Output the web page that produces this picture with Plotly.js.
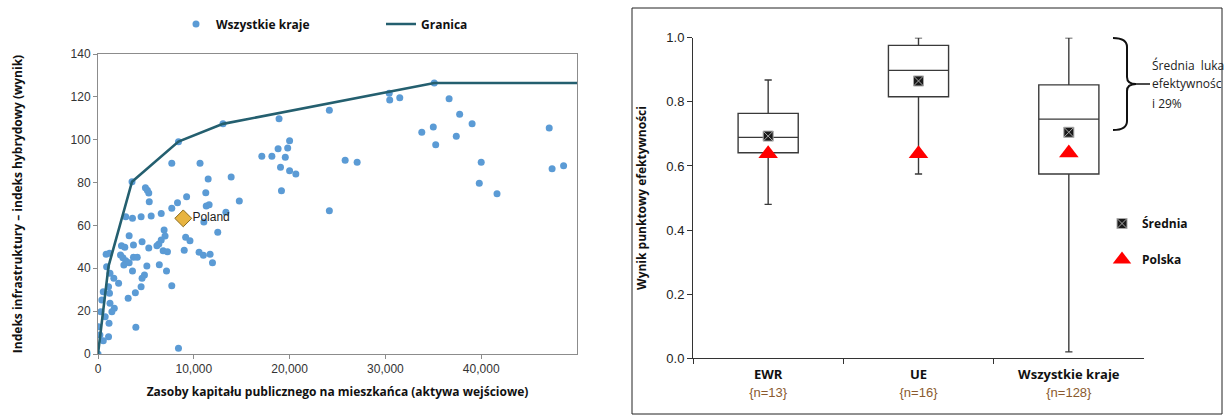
<!DOCTYPE html>
<html>
<head>
<meta charset="utf-8">
<script src="https://cdn.plot.ly/plotly-3.0.1.min.js"></script>
<style>html,body{margin:0;padding:0;background:#fff;}#chart{width:1226px;height:417px;}</style>
</head>
<body>
<div id="chart"></div>
<script>
// ---------- Left chart data: scatter of all countries ----------
const countriesX = [
  17100,18150,18800,19800,20000,19550,19050,20000,20650,19150,18900,24150,24150,25800,27050,
  30400,30450,31500,35100,36650,37750,39050,33800,35000,35250,37400,40000,39800,41650,47100,47400,48600,
  7700,10650,8400,11500,13900,11250,3550,4950,5150,5300,5350,9250,8300,7700,6600,5550,4500,3600,2900,
  11300,11600,11050,12500,13350,14750,6900,7000,6600,6350,6150,9150,9600,9000,6800,7250,6400,7150,7700,
  10550,11000,11700,11950,5300,4600,3250,3700,2450,2800,2350,2600,2900,2700,3250,3700,4100,3600,5100,
  4850,4600,4500,3900,3150,3950,2150,1650,1250,900,850,1200,1100,1200,550,400,1250,1700,1450,300,750,
  50,1150,200,1100,550,8400,0,13050
];
const countriesY = [
  92.3,92.3,95.8,96.1,99.5,91.8,87.1,85.5,84.0,76.2,109.8,113.7,66.9,90.4,89.5,
  121.7,118.5,119.6,126.5,119.1,111.9,107.5,103.5,105.9,97.7,101.6,89.5,79.7,74.8,105.5,86.5,87.9,
  89.0,89.0,99.1,81.7,82.6,75.3,80.4,77.6,76.4,75.1,71.1,73.4,70.6,68.0,65.6,64.4,64.1,63.3,64.1,
  69.1,69.7,61.6,56.8,66.1,71.4,57.9,55.1,53.2,51.3,50.5,54.5,52.9,48.4,48.2,47.7,41.7,38.7,31.9,
  47.5,46.1,46.5,42.6,49.5,52.4,55.2,50.9,50.5,49.8,46.2,44.9,43.5,41.5,42.6,45.1,45.1,38.7,41.1,
  36.9,35.3,31.4,28.6,26.0,12.5,33.0,35.3,37.7,40.7,46.5,47.0,31.4,28.3,29.1,25.2,23.7,21.3,19.7,19.7,17.4,
  12.7,14.3,8.9,8.1,6.2,2.7,0,107.4
];
// Frontier ("Granica")
const frontierX = [0, 1100, 3550, 8400, 13050, 35100, 50000];
const frontierY = [0, 41, 80.4, 99.1, 107.4, 126.5, 126.5];
// Poland
const polandX = [8900];
const polandY = [63.3];
const polandLabel = ["Poland"];
const leftXTicks = [0, 10000, 20000, 30000, 40000];

// ---------- Right chart data: efficiency box plots ----------
const groups = ["EWR", "UE", "Wszystkie kraje"];
const groupN = ["{n=13}", "{n=16}", "{n=128}"];
const lowerWhisker = [0.48, 0.575, 0.02];
const q1 = [0.641, 0.816, 0.575];
const median = [0.689, 0.898, 0.746];
const q3 = [0.764, 0.976, 0.853];
const upperWhisker = [0.868, 1.0, 1.0];
const groupMean = [0.693, 0.865, 0.705];
const polska = [0.638, 0.638, 0.64];

// ---------- helpers for paper coordinates (pixels -> paper) ----------
const W = 1226, H = 417;
const px = x => x / W;
const py = y => 1 - y / H;

const boldFont = {family: "Open Sans, sans-serif", size: 12, color: "#111", weight: 700};
const ticktext2 = groups.map((g, i) =>
  "<b><span style='font-family:Open Sans;font-size:13px'>" + g + "</span></b><br><span style='color:#8a5a2e;font-size:13px'>" + groupN[i] + "</span>");

const traces = [
  {
    type: "scatter", mode: "markers", name: "Wszystkie kraje",
    x: countriesX, y: countriesY, xaxis: "x", yaxis: "y",
    marker: {color: "#5b9bd5", size: 7, line: {width: 0}},
    legend: "legend", legendgroup: "a"
  },
  {
    type: "scatter", mode: "lines", name: "Granica",
    x: frontierX, y: frontierY, xaxis: "x", yaxis: "y",
    line: {color: "#245f6f", width: 2.6},
    legend: "legend", legendgroup: "b"
  },
  {
    type: "scatter", mode: "markers+text", name: "Poland", showlegend: false,
    x: polandX, y: polandY, text: polandLabel, textposition: "middle right",
    textfont: {family: "Liberation Sans, Arial, sans-serif", size: 12, color: "#222"},
    xaxis: "x", yaxis: "y",
    marker: {symbol: "diamond", color: "#e8b440", size: 13, line: {color: "#8a6a1a", width: 1}}
  },
  {
    type: "box", name: "Boxes", showlegend: false,
    x: groups, q1: q1, median: median, q3: q3,
    lowerfence: lowerWhisker, upperfence: upperWhisker,
    xaxis: "x2", yaxis: "y2",
    fillcolor: "#ffffff", line: {color: "#3a3a3a", width: 1.4},
    width: 0.4, whiskerwidth: 0.12, boxpoints: false, hoverinfo: "y"
  },
  {
    type: "scatter", mode: "markers", name: "Średnia",
    x: groups, y: groupMean, xaxis: "x2", yaxis: "y2",
    marker: {symbol: "square-x", color: "#1a1a1a", size: 10, line: {color: "#a8a8a8", width: 1}},
    legend: "legend2", legendgroup: "m"
  },
  {
    type: "scatter", mode: "markers", name: "Polska",
    x: groups, y: polska, xaxis: "x2", yaxis: "y2",
    marker: {symbol: "triangle-up", color: "#ff0000", size: 17, line: {width: 0}},
    legend: "legend2", legendgroup: "p"
  }
];

const brace = "M " + px(1113) + "," + py(38) +
  " Q " + px(1127) + "," + py(38) + " " + px(1127) + "," + py(47) +
  " L " + px(1127) + "," + py(77) +
  " Q " + px(1127) + "," + py(84) + " " + px(1136) + "," + py(84) +
  " Q " + px(1127) + "," + py(84) + " " + px(1127) + "," + py(91) +
  " L " + px(1127) + "," + py(121) +
  " Q " + px(1127) + "," + py(130) + " " + px(1113) + "," + py(130);

const layout = {
  width: W, height: H,
  margin: {l: 0, r: 0, t: 0, b: 0},
  paper_bgcolor: "#ffffff", plot_bgcolor: "#ffffff",
  showlegend: true,
  xaxis: {
    domain: [px(98), px(577)], range: [0, 50000],
    tickvals: leftXTicks, tickformat: ",d",
    showgrid: false, zeroline: false,
    showline: true, mirror: true, linecolor: "#8c8c8c", linewidth: 1,
    ticks: "outside", ticklen: 4, tickcolor: "#8c8c8c",
    tickfont: {family: "Liberation Sans, Arial, sans-serif", size: 12, color: "#333"},
    title: {text: "Zasoby kapitału publicznego na mieszkańca (aktywa wejściowe)", font: boldFont, standoff: 12},
    automargin: false
  },
  yaxis: {
    domain: [py(354), py(54)], range: [0, 140], dtick: 20,
    showgrid: false, zeroline: false,
    showline: true, mirror: true, linecolor: "#8c8c8c", linewidth: 1,
    ticks: "outside", ticklen: 4, tickcolor: "#8c8c8c",
    tickfont: {family: "Liberation Sans, Arial, sans-serif", size: 12, color: "#333"},
    title: {text: "Indeks infrastruktury – indeks hybrydowy (wynik)", font: boldFont, standoff: 45},
    automargin: false
  },
  xaxis2: {
    domain: [px(693), px(1144)], anchor: "y2", type: "category",
    range: [-0.5, 2.5], tickvals: groups, ticktext: ticktext2, tickson: "boundaries",
    showgrid: false, zeroline: false,
    showline: true, linecolor: "#333", linewidth: 1,
    ticks: "outside", ticklen: 5, tickcolor: "#333", ticklabelstandoff: 3,
    tickfont: {family: "Liberation Sans, Arial, sans-serif", size: 14, color: "#111"},
    automargin: false
  },
  yaxis2: {
    domain: [py(358.3), py(37.7)], anchor: "x2", range: [0, 1.0], dtick: 0.2, tickformat: ".1f",
    showgrid: false, zeroline: false,
    showline: true, linecolor: "#333", linewidth: 1,
    ticks: "outside", ticklen: 5, tickcolor: "#333",
    tickfont: {family: "Liberation Sans, Arial, sans-serif", size: 13, color: "#222"},
    title: {text: "Wynik punktowy efektywności", font: boldFont, standoff: 17},
    automargin: false
  },
  legend: {
    orientation: "h", x: px(176), xanchor: "left", y: py(24), yanchor: "middle",
    font: {family: "Open Sans, sans-serif", size: 12, color: "#111", weight: 700},
    bgcolor: "rgba(0,0,0,0)", entrywidth: 160, entrywidthmode: "pixels",
    borderwidth: 0, itemclick: false
  },
  legend2: {
    orientation: "v", x: px(1102), xanchor: "left", y: py(209), yanchor: "top",
    font: {family: "Open Sans, sans-serif", size: 12, color: "#111", weight: 700},
    bgcolor: "rgba(0,0,0,0)", tracegroupgap: 17, traceorder: "grouped",
    itemwidth: 30, borderwidth: 0
  },
  shapes: [
    {type: "rect", xref: "paper", yref: "paper", x0: px(632), x1: px(1222), y0: py(414), y1: py(8),
     line: {color: "#222", width: 1}, fillcolor: "rgba(0,0,0,0)"},
    {type: "path", xref: "paper", yref: "paper", path: brace, line: {color: "#111", width: 2}},
    {type: "line", xref: "paper", yref: "paper", x0: px(1134), x1: px(1150), y0: py(84), y1: py(84),
     line: {color: "#111", width: 1.5}}
  ],
  annotations: [
    {xref: "paper", yref: "paper", x: px(1150), y: py(65), xanchor: "left", yanchor: "middle",
     text: "Średnia  luka", showarrow: false, font: {family: "Open Sans, sans-serif", size: 12, color: "#222"}},
    {xref: "paper", yref: "paper", x: px(1150), y: py(84), xanchor: "left", yanchor: "middle",
     text: "efektywnośc", showarrow: false, font: {family: "Open Sans, sans-serif", size: 12, color: "#222"}},
    {xref: "paper", yref: "paper", x: px(1150), y: py(103), xanchor: "left", yanchor: "middle",
     text: "i 29%", showarrow: false, font: {family: "Open Sans, sans-serif", size: 12, color: "#222"}}
  ]
};

Plotly.newPlot("chart", traces, layout, {displayModeBar: false, staticPlot: true});
</script>
</body>
</html>
